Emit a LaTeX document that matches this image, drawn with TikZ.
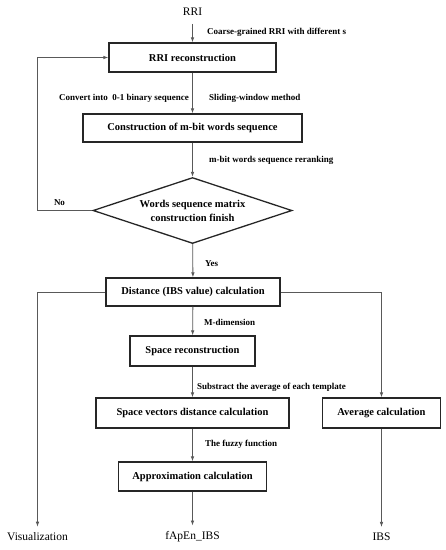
\documentclass[tikz,border=0pt]{standalone}
\usepackage{fontspec}
\setmainfont{Liberation Serif}
\usetikzlibrary{arrows.meta,shapes.geometric}
\tikzset{
  x=1pt,y=-1pt,
  box/.style={draw=black!85,line width=1.3pt,rectangle,inner sep=0pt,
    font=\fontsize{10.5}{13}\selectfont\bfseries,align=center},
  dec/.style={draw=black!85,line width=1.3pt,diamond,aspect=3,inner sep=0pt,
    minimum width=199pt,minimum height=66pt,
    font=\fontsize{10.5}{14}\selectfont\bfseries,align=center},
  lbl/.style={inner sep=0pt,font=\fontsize{9}{11}\selectfont\bfseries},
  outtxt/.style={inner sep=0pt,font=\fontsize{11.5}{14}\selectfont},
  conn/.style={draw=black!65,line width=0.8pt,-{Latex[length=5pt,width=3.6pt]}},
  line/.style={draw=black!65,line width=0.8pt},
}
\begin{document}
\begin{tikzpicture}
\useasboundingbox (0,0) rectangle (446,550);
% nodes
\node[outtxt] (in) at (192.5,12) {RRI};
\node[box,minimum width=167pt,minimum height=29pt] (rri) at (192.5,57.5) {RRI reconstruction};
\node[box,minimum width=219pt,minimum height=28pt] (cons) at (192.5,128) {Construction of m-bit words sequence};
\node[dec] (dia) at (192.5,210.5) {Words sequence matrix\\construction finish};
\node[box,minimum width=174pt,minimum height=28pt] (dist) at (193,292) {Distance (IBS value) calculation};
\node[box,minimum width=125pt,minimum height=30pt] (space) at (192.5,351) {Space reconstruction};
\node[box,minimum width=193pt,minimum height=30pt] (svd) at (192.5,413) {Space vectors distance calculation};
\node[box,minimum width=118pt,minimum height=30pt] (avg) at (381.5,413) {Average calculation};
\node[box,minimum width=148pt,minimum height=29pt] (appr) at (192.5,476.5) {Approximation calculation};
\node[outtxt] (vis) at (37.5,537) {Visualization};
\node[outtxt] (fap) at (192.5,537) {fApEn\_IBS};
\node[outtxt] (ibs) at (381.5,537) {IBS};
% labels
\node[lbl,anchor=west] (l1) at (207,32) {Coarse-grained RRI with different s};
\node[lbl,anchor=east] (l2) at (189,98) {Convert into\ \ 0-1 binary sequence};
\node[lbl,anchor=west] (l3) at (209,98) {Sliding-window method};
\node[lbl,anchor=west] (l4) at (209,160) {m-bit words sequence reranking};
\node[lbl] (l5) at (59.5,203) {No};
\node[lbl,anchor=west] (l6) at (205,264) {Yes};
\node[lbl,anchor=west] (l7) at (204,322) {M-dimension};
\node[lbl,anchor=west] (l8) at (197,387) {Substract the average of each template};
\node[lbl,anchor=west] (l9) at (205,444) {The fuzzy function};
% connectors
\coordinate (fb) at (37,210.5);
\draw[conn,shorten <=8pt] (in) -- (rri);
\draw[conn] (rri) -- (cons);
\draw[conn] (cons) -- (dia);
\draw[conn] (dia.west) -- (fb) |- (rri.west);
\draw[conn] (dia) -- (dist);
\draw[conn] (dist) -- (space);
\draw[conn] (space) -- (svd);
\draw[conn] (svd) -- (appr);
\draw[conn,shorten >=6pt] (appr) -- (fap);
\draw[conn,shorten >=6pt] (dist.west) -| (vis);
\draw[conn] (dist.east) -| (avg.north);
\draw[conn,shorten >=6pt] (avg) -- (ibs);
\end{tikzpicture}
\end{document}
